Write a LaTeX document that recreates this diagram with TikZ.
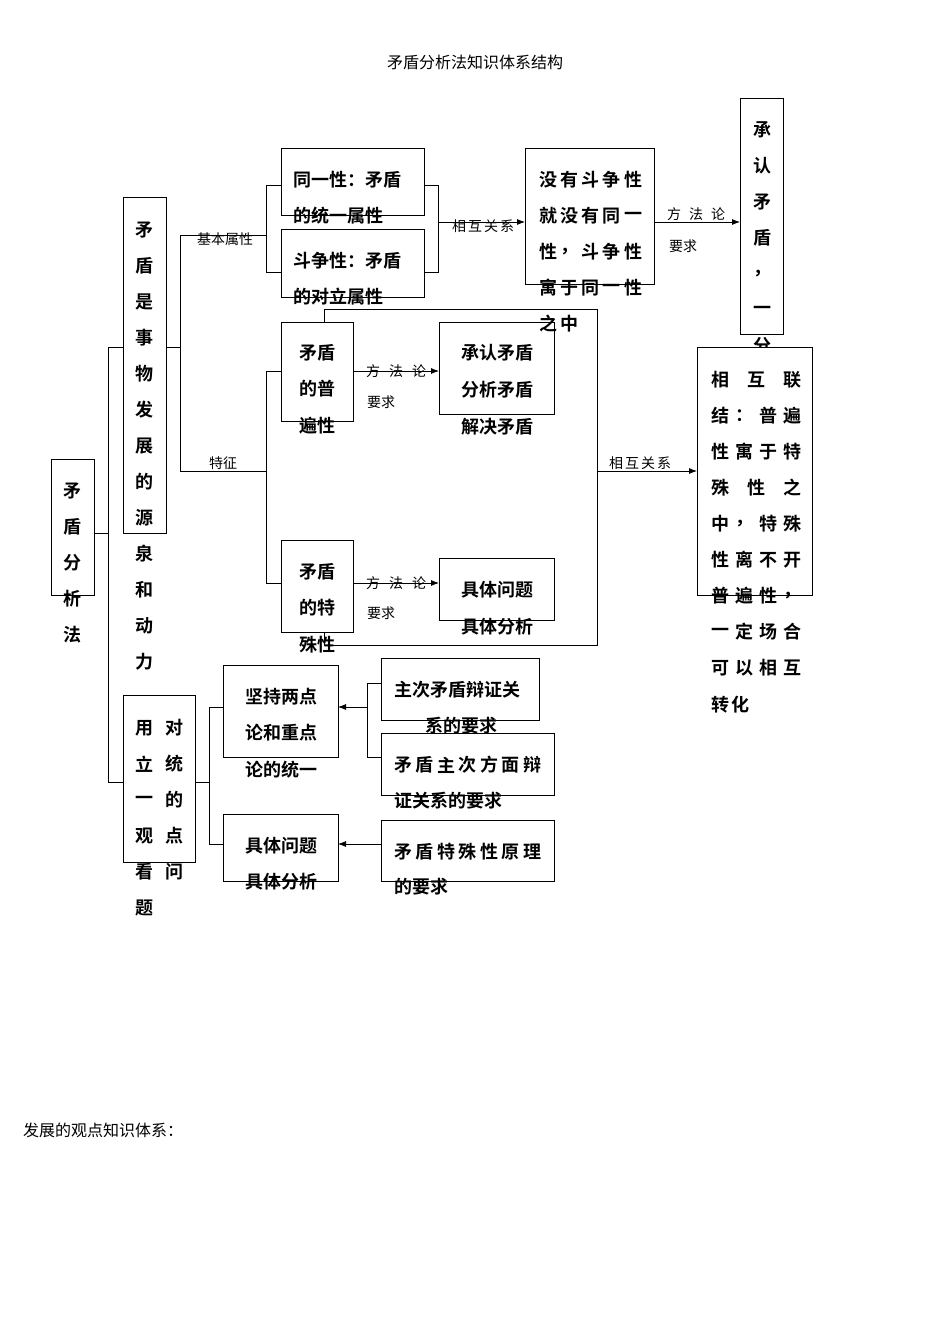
\documentclass[tikz,border=0pt]{standalone}
\usepackage{fontspec}
\newfontfamily\cjkb{Noto Sans CJK SC Bold}
\newfontfamily\cjk{Noto Sans CJK SC}
\usetikzlibrary{arrows.meta}
\tikzset{
 bx/.style={draw,line width=0.8pt},
 ln/.style={line width=0.8pt},
 ar/.style={line width=0.8pt,-{Latex[length=8pt,width=6pt]}},
 t/.style={inner sep=0pt,font=\cjkb\fontsize{18}{18}\selectfont},
 s/.style={inner sep=0pt,font=\cjk\fontsize{14}{14}\selectfont},
}
\newcommand\spr[4]{\foreach \c [count=\i from 0] in {#4} \node[t] at ({#1+\i*#2},#3) {\c};}
\newcommand\sps[4]{\foreach \c [count=\i from 0] in {#4} \node[s] at ({#1+\i*#2},#3) {\c};}
\newcommand\col[4]{\foreach \c [count=\i from 0] in {#4} \node[t] at (#1,{#2+\i*#3}) {\c};}
\begin{document}
\begin{tikzpicture}[x=1pt,y=-1pt]
\useasboundingbox[fill=white] (0,0) rectangle (950,1344);
\node[inner sep=0pt,font=\cjk\fontsize{16}{16}\selectfont] (title) at (475,62) {矛盾分析法知识体系结构};
\node[inner sep=0pt,font=\cjk\fontsize{16}{16}\selectfont,anchor=west] (foot) at (23,1130) {发展的观点知识体系：};
% boxes
\draw[bx] (51,459) rectangle (94,595);
\col{72}{491}{36}{矛,盾,分,析,法}
\draw[bx] (123,197) rectangle (166,533);
\col{144}{230}{36}{矛,盾,是,事,物,发,展,的,源,泉,和,动,力}
\draw[bx] (123,695) rectangle (195,862);
\col{144}{728}{36}{用,立,一,观,看,题}
\col{174}{728}{36}{对,统,的,点,问}
% left trunk
\draw[ln] (94,533)--(108,533);
\draw[ln] (123,347)--(108,347)--(108,782)--(123,782);
\draw[ln] (166,347)--(180,347);
\draw[ln] (266,235)--(180,235)--(180,471)--(266,471);
\node[s] at (225,239) {基本属性};
\node[s] at (223,463) {特征};
% basic attributes
\draw[ln] (281,185)--(266,185)--(266,272)--(281,272);
\draw[bx] (281,148) rectangle (424,215);
\draw[bx] (281,229) rectangle (424,297);
\node[t,anchor=west] at (293,180) {同一性：矛盾};
\node[t,anchor=west] at (293,216) {的统一属性};
\node[t,anchor=west] at (293,261) {斗争性：矛盾};
\node[t,anchor=west] at (293,297) {的对立属性};
\draw[ln] (424,185)--(438,185)--(438,272)--(424,272);
\draw[ar] (438,222)--(525,222);
\sps{459}{16}{226}{相,互,关,系}
\draw[bx] (525,148) rectangle (654,284);
\spr{548}{21.3}{180}{没,有,斗,争,性}
\spr{548}{21.3}{216}{就,没,有,同,一}
\spr{548}{21.3}{252}{性,，,斗,争,性}
\spr{548}{21.3}{288}{寓,于,同,一,性}
\spr{548}{21.3}{324}{之,中}
\draw[ar] (654,222)--(740,222);
\sps{674}{22}{214}{方,法,论}
\node[s] at (683,246) {要求};
\draw[bx] (740,98) rectangle (783,334);
\col{762}{130}{36}{承,认,矛,盾,，,一,分}
% big frame
\draw[ln] (324,322)--(324,309)--(597,309)--(597,645)--(324,645)--(324,632);
\draw[ar] (597,471)--(697,471);
\sps{616}{16}{463}{相,互,关,系}
\draw[bx,fill=white] (697,347) rectangle (812,595);
\spr{720}{36}{380}{相,互,联}
\spr{720}{24}{416}{结,：,普,遍}
\spr{720}{24}{452}{性,寓,于,特}
\spr{720}{36}{488}{殊,性,之}
\spr{720}{24}{524}{中,，,特,殊}
\spr{720}{24}{560}{性,离,不,开}
\spr{720}{24}{596}{普,遍,性,，}
\spr{720}{24}{632}{一,定,场,合}
\spr{720}{24}{668}{可,以,相,互}
\spr{720}{20}{705}{转,化}
% features
\draw[ln] (281,371)--(266,371)--(266,583)--(281,583);
\draw[bx] (281,322) rectangle (353,421);
\node[t] at (317,353) {矛盾};
\node[t] at (317,389) {的普};
\node[t] at (317,426) {遍性};
\draw[bx] (281,540) rectangle (353,632);
\node[t] at (317,572) {矛盾};
\node[t] at (317,608) {的特};
\node[t] at (317,645) {殊性};
\draw[ar] (353,371)--(439,371);
\sps{373}{23}{371}{方,法,论}
\node[s] at (381,402) {要求};
\draw[ar] (353,583)--(439,583);
\sps{373}{23}{583}{方,法,论}
\node[s] at (381,613) {要求};
\draw[bx] (439,322) rectangle (554,414);
\node[t] at (497,353) {承认矛盾};
\node[t] at (497,390) {分析矛盾};
\node[t] at (497,427) {解决矛盾};
\draw[bx] (439,558) rectangle (554,620);
\node[t] at (497,590) {具体问题};
\node[t] at (497,627) {具体分析};
% bottom group
\draw[ln] (195,782)--(209,782);
\draw[ln] (223,707)--(209,707)--(209,844)--(223,844);
\draw[bx] (223,665) rectangle (338,757);
\node[t] at (281,697) {坚持两点};
\node[t] at (281,733) {论和重点};
\node[t] at (281,770) {论的统一};
\draw[bx] (223,814) rectangle (338,881);
\node[t] at (281,846) {具体问题};
\node[t] at (281,882) {具体分析};
\draw[bx] (381,658) rectangle (539,720);
\node[t,anchor=west] at (394,690) {主次矛盾辩证关};
\node[t] at (461,726) {系的要求};
\draw[bx,fill=white] (381,733) rectangle (554,795);
\spr{403}{21.5}{765}{矛,盾,主,次,方,面,辩}
\node[t,anchor=west] at (394,801) {证关系的要求};
\draw[bx] (381,820) rectangle (554,881);
\spr{403}{21.5}{852}{矛,盾,特,殊,性,原,理}
\node[t,anchor=west] at (394,887) {的要求};
\draw[ln] (381,683)--(367,683)--(367,757)--(381,757);
\draw[ar] (367,707)--(338,707);
\draw[ar] (381,844)--(338,844);
\end{tikzpicture}
\end{document}
